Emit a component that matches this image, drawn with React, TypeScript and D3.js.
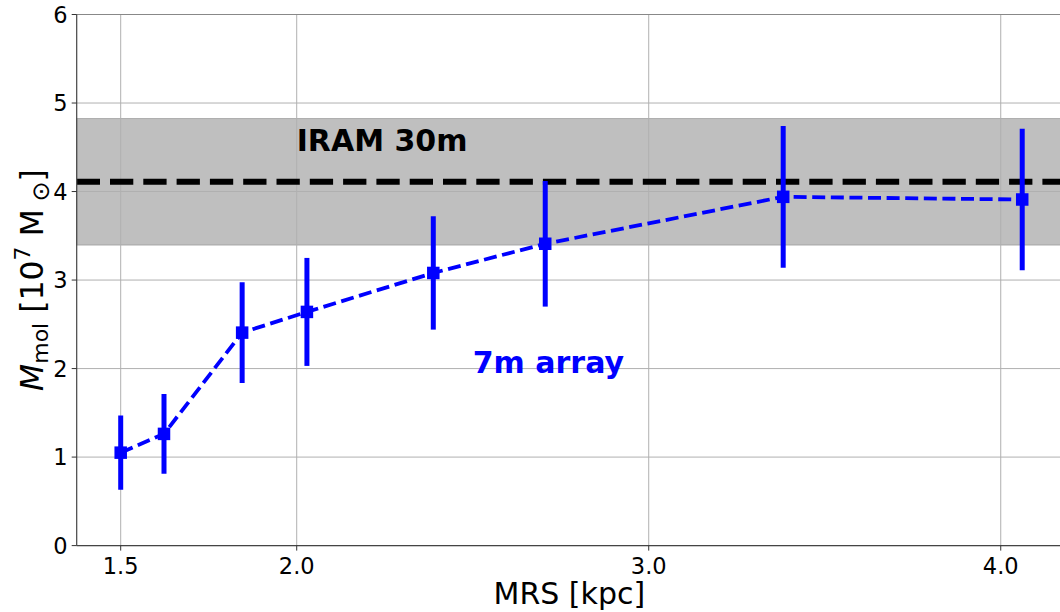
import React from "react";
import * as d3 from "d3";

const mrs = [1.5, 1.623, 1.845, 2.029, 2.388, 2.706, 3.382, 4.061];
const mmol = [1.05, 1.262, 2.406, 2.64, 3.08, 3.41, 3.94, 3.91];
const mmolErr = [0.42, 0.45, 0.57, 0.61, 0.64, 0.71, 0.8, 0.8];
const iramValue = 4.11;
const iramErr = 0.715;
const xTicks = [1.5, 2.0, 3.0, 4.0];
const yTicks = [0, 1, 2, 3, 4, 5, 6];
const iramLabel = { x: 2.0, y: 4.46, text: "IRAM 30m" };
const arrayLabel = { x: 2.5, y: 1.95, text: "7m array" };

const W = 1060;
const H = 612;
const L = 76.7;
const R = 1062;
const T = 14.5;
const B = 545.6;
const FONT = "DejaVu Sans, sans-serif";

export default function App() {
  const x = d3.scaleLinear().domain([1.375, 4.174]).range([L, R]);
  const y = d3.scaleLinear().domain([0, 6]).range([B, T]);
  const pts = mrs.map((v, i) => ({ x: v, y: mmol[i], e: mmolErr[i] }));
  const line = d3
    .line<{ x: number; y: number }>()
    .x((d) => x(d.x))
    .y((d) => y(d.y));
  const ms = 12.5;
  return (
    <div style={{ position: "absolute", left: 0, top: 0 }}>
      <svg width={W} height={H} style={{ display: "block", background: "#fff" }}>
        <defs>
          <clipPath id="plot">
            <rect x={L} y={T} width={R - L} height={B - T} />
          </clipPath>
        </defs>
        <rect
          x={L}
          width={R - L}
          y={y(iramValue + iramErr)}
          height={y(iramValue - iramErr) - y(iramValue + iramErr)}
          fill="gray"
          fillOpacity={0.5}
          stroke="gray"
          strokeOpacity={0.5}
          strokeWidth={1}
        />
        <g stroke="#b0b0b0" strokeWidth={1}>
          {xTicks.map((t) => (
            <line key={"gx" + t} x1={x(t)} x2={x(t)} y1={T} y2={B} />
          ))}
          {yTicks.map((t) => (
            <line key={"gy" + t} x1={L} x2={R} y1={y(t)} y2={y(t)} />
          ))}
        </g>
        <g clipPath="url(#plot)">
          <line
            x1={L}
            x2={R}
            y1={y(iramValue)}
            y2={y(iramValue)}
            stroke="#000"
            strokeWidth={6}
            strokeDasharray="23.3 10"
          />
          {pts.map((p, i) => (
            <line
              key={"e" + i}
              x1={x(p.x)}
              x2={x(p.x)}
              y1={y(p.y - p.e)}
              y2={y(p.y + p.e)}
              stroke="#0000ff"
              strokeWidth={5}
            />
          ))}
          <path
            d={line(pts) || ""}
            fill="none"
            stroke="#0000ff"
            strokeWidth={3.8}
            strokeDasharray="13 5.6"
          />
          {pts.map((p, i) => (
            <rect
              key={"m" + i}
              x={x(p.x) - ms / 2}
              y={y(p.y) - ms / 2}
              width={ms}
              height={ms}
              fill="#0000ff"
            />
          ))}
        </g>
        <text
          x={x(iramLabel.x)}
          y={y(iramLabel.y)}
          fontFamily={FONT}
          fontWeight="bold"
          fontSize={30}
          fill="#000"
        >
          {iramLabel.text}
        </text>
        <text
          x={x(arrayLabel.x)}
          y={y(arrayLabel.y)}
          fontFamily={FONT}
          fontWeight="bold"
          fontSize={30}
          fill="#0000ff"
        >
          {arrayLabel.text}
        </text>
        <line x1={L} x2={R} y1={T} y2={T} stroke="#888" strokeWidth={1.2} />
        <line x1={L} x2={L} y1={T} y2={B} stroke="#444" strokeWidth={1.2} />
        <line x1={L} x2={R} y1={B} y2={B} stroke="#444" strokeWidth={1.2} />
        <g stroke="#333" strokeWidth={1}>
          {xTicks.map((t) => (
            <line key={"tx" + t} x1={x(t)} x2={x(t)} y1={B} y2={B + 5} />
          ))}
          {yTicks.map((t) => (
            <line key={"ty" + t} x1={L - 5} x2={L} y1={y(t)} y2={y(t)} />
          ))}
        </g>
        <g fontFamily={FONT} fontSize={22.5} fill="#000">
          {xTicks.map((t) => (
            <text key={"lx" + t} x={x(t)} y={574} textAnchor="middle">
              {d3.format(".1f")(t)}
            </text>
          ))}
          {yTicks.map((t) => (
            <text key={"ly" + t} x={L - 9} y={y(t)} dy="0.36em" textAnchor="end">
              {t}
            </text>
          ))}
        </g>
        <text
          x={(L + R) / 2}
          y={604}
          textAnchor="middle"
          fontFamily={FONT}
          fontSize={30}
          fill="#000"
        >
          MRS [kpc]
        </text>
        <text
          transform={`translate(43, ${(T + B) / 2}) rotate(-90)`}
          textAnchor="middle"
          fontFamily={FONT}
          fontSize={31.5}
          fill="#000"
        >
          <tspan fontStyle="italic">M</tspan>
          <tspan fontSize={22} dy={5}>mol</tspan>
          <tspan dy={-5}> [10</tspan>
          <tspan fontSize={22} dy={-13}>7</tspan>
          <tspan dy={13}> M</tspan>
          <tspan fontSize={24} dy={6}> ⊙</tspan>
          <tspan dy={-6}>]</tspan>
        </text>
      </svg>
    </div>
  );
}
